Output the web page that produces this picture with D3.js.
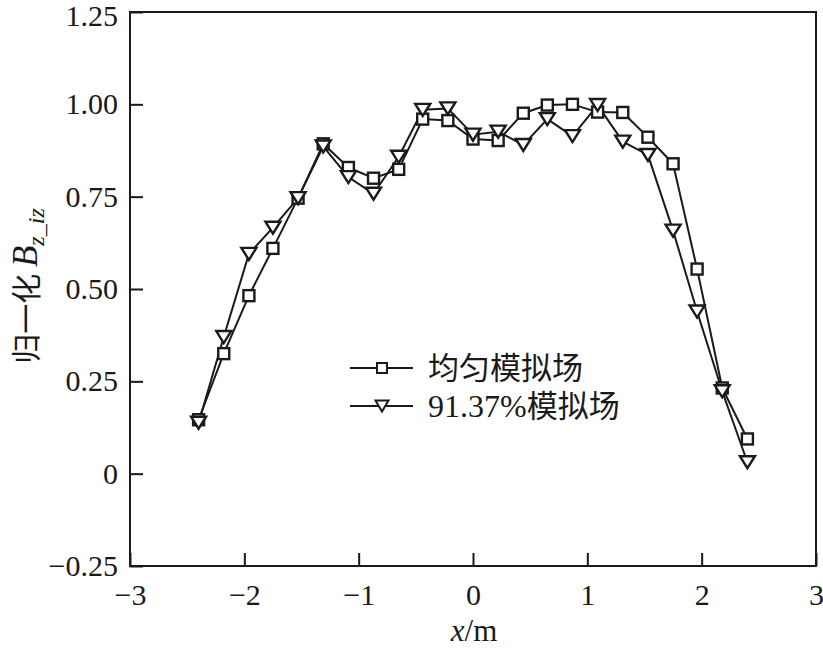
<!DOCTYPE html>
<html>
<head>
<meta charset="utf-8">
<script src="https://cdn.jsdelivr.net/npm/d3@7"></script>
<style>
  html, body { margin: 0; padding: 0; background: #fff; }
  svg { display: block; }
  .serif { font-family: "Liberation Serif", "Times New Roman", Times, Tinos, "DejaVu Serif", serif; }
  .cjk { font-family: "Noto Sans CJK SC", "Noto Sans CJK JP", sans-serif; }
</style>
</head>
<body>
<svg id="chart" width="823" height="650"></svg>
<script>
// ---- data ----
const xValues = [-2.4, -2.18, -1.96, -1.75, -1.53, -1.31, -1.09, -0.87, -0.65, -0.44, -0.22, 0,
                 0.22, 0.44, 0.65, 0.87, 1.09, 1.31, 1.53, 1.75, 1.96, 2.18, 2.4];
const uniformField = [0.146, 0.325, 0.482, 0.61, 0.746, 0.893, 0.829, 0.8, 0.824, 0.96, 0.956, 0.906,
                      0.902, 0.976, 0.998, 1.0, 0.979, 0.978, 0.911, 0.839, 0.554, 0.232, 0.094];
const field9137 = [0.138, 0.37, 0.595, 0.666, 0.746, 0.886, 0.803, 0.758, 0.858, 0.985, 0.989, 0.918,
                   0.926, 0.89, 0.96, 0.914, 0.998, 0.899, 0.863, 0.658, 0.439, 0.223, 0.031];
const seriesNames = ["均匀模拟场", "91.37%模拟场"];
const xTicks = [-3, -2, -1, 0, 1, 2, 3];
const yTicks = [-0.25, 0, 0.25, 0.5, 0.75, 1.0, 1.25];

// ---- layout ----
const svg = d3.select("#chart");
const L = 130, R = 816, T = 12, B = 566;
const ink = "#1a1a1a";

const x = d3.scaleLinear().domain([-3, 3]).range([L, R]);
const y = d3.scaleLinear().domain([-0.25, 1.25]).range([B, T]);

// frame
svg.append("rect").attr("x", L).attr("y", T).attr("width", R - L).attr("height", B - T)
  .attr("fill", "none").attr("stroke", ink).attr("stroke-width", 2);

const minus = s => s.replace("-", "\u2212");
const yFmt = d => d === 0 ? "0" : minus(d3.format(".2f")(d));
const xFmt = d => minus(d3.format("d")(d));

const yAxis = svg.append("g").attr("transform", `translate(${L},0)`)
  .call(d3.axisLeft(y).tickValues(yTicks).tickFormat(yFmt).tickSizeInner(-13).tickSizeOuter(0).tickPadding(12));
const xAxis = svg.append("g").attr("transform", `translate(0,${B})`)
  .call(d3.axisBottom(x).tickValues(xTicks).tickFormat(xFmt).tickSizeInner(-13).tickSizeOuter(0).tickPadding(18));

[yAxis, xAxis].forEach(a => {
  a.attr("font-family", null).attr("font-size", null);
  a.select(".domain").remove();
  a.selectAll(".tick line").attr("stroke", ink).attr("stroke-width", 2);
  a.selectAll(".tick text").attr("fill", ink).attr("class", "serif").style("font-size", "30px");
});
// keep the top label inside the canvas
yAxis.selectAll(".tick text").filter(d => d === 1.25).attr("dy", "0.36em").attr("y", 3);

// lines & markers
const sq = 11, triW = 15, triH = 12;
const line = d3.line().x(d => x(d[0])).y(d => y(d[1]));
const dataA = xValues.map((v, i) => [v, uniformField[i]]);
const dataB = xValues.map((v, i) => [v, field9137[i]]);

function drawLine(data) {
  svg.append("path").datum(data).attr("d", line)
    .attr("fill", "none").attr("stroke", ink).attr("stroke-width", 2).attr("stroke-linejoin", "round");
}
function squares(g, data, s) {
  g.selectAll(null).data(data).enter().append("rect")
    .attr("x", d => x(d[0]) - s / 2).attr("y", d => y(d[1]) - s / 2)
    .attr("width", s).attr("height", s)
    .attr("fill", "#fff").attr("stroke", ink).attr("stroke-width", 2.4);
}
function triPath(cx, cy, w, h) {
  return `M${cx - w / 2},${cy - h / 2}L${cx + w / 2},${cy - h / 2}L${cx},${cy + h / 2}Z`;
}
function triangles(g, data, w, h) {
  g.selectAll(null).data(data).enter().append("path")
    .attr("d", d => triPath(x(d[0]), y(d[1]), w, h))
    .attr("fill", "#fff").attr("stroke", ink).attr("stroke-width", 2.4).attr("stroke-linejoin", "miter");
}
drawLine(dataA);
drawLine(dataB);
squares(svg.append("g"), dataA, sq);
triangles(svg.append("g"), dataB, triW, triH);

// legend
const lg = svg.append("g");
const rows = [368, 406];
rows.forEach((ry, i) => {
  lg.append("line").attr("x1", 350).attr("x2", 413).attr("y1", ry).attr("y2", ry)
    .attr("stroke", ink).attr("stroke-width", 2);
  if (i === 0) {
    lg.append("rect").attr("x", 382 - 5).attr("y", ry - 5).attr("width", 10).attr("height", 10)
      .attr("fill", "#fff").attr("stroke", ink).attr("stroke-width", 2);
  } else {
    lg.append("path").attr("d", triPath(382, ry, 13, 11))
      .attr("fill", "#fff").attr("stroke", ink).attr("stroke-width", 2);
  }
});
lg.append("text").attr("x", 428).attr("y", rows[0] + 11).attr("fill", ink).attr("class", "cjk")
  .style("font-size", "31px").text(seriesNames[0]);
const t2 = lg.append("text").attr("x", 428).attr("y", rows[1] + 11).attr("fill", ink).style("font-size", "31px");
t2.append("tspan").attr("class", "serif").style("font-size", "32px").text("91.37%");
t2.append("tspan").attr("class", "cjk").text("模拟场");

// axis titles
const xt = svg.append("text").attr("x", 474).attr("y", 641).attr("text-anchor", "middle")
  .attr("fill", ink).attr("class", "serif").style("font-size", "31px");
xt.append("tspan").style("font-style", "italic").text("x");
xt.append("tspan").text("/m");

const yt = svg.append("text").attr("transform", "translate(37,286) rotate(-90)")
  .attr("text-anchor", "middle").attr("fill", ink).style("font-size", "30px");
yt.append("tspan").attr("class", "cjk").text("归一化 ");
yt.append("tspan").attr("class", "serif").style("font-style", "italic").style("font-size", "35px").text("B");
yt.append("tspan").attr("class", "serif").style("font-style", "italic").style("font-size", "24px")
  .attr("dy", 7).text("z_iz");
</script>
</body>
</html>
